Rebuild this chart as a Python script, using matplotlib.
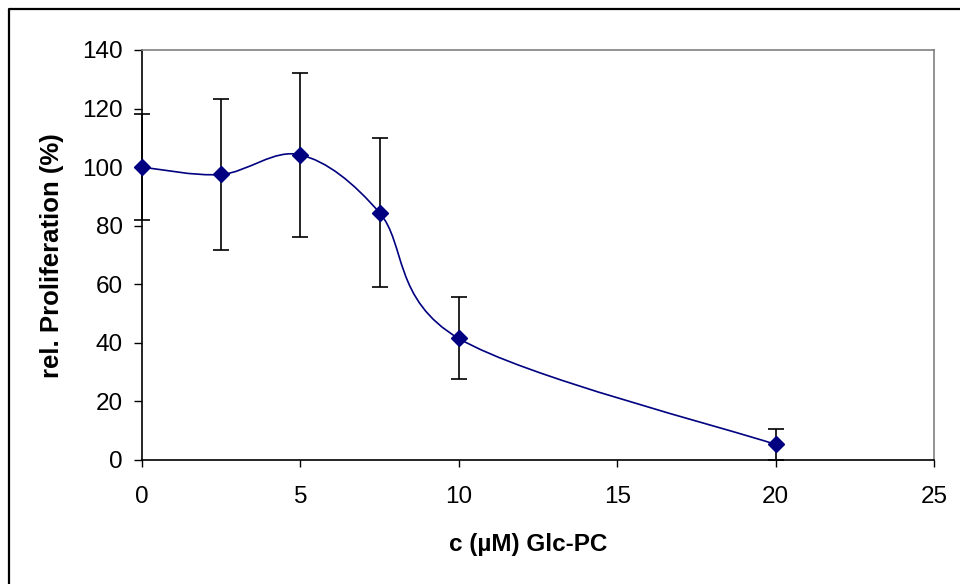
import matplotlib
matplotlib.use('Agg')
import matplotlib.pyplot as plt
from matplotlib.path import Path
from matplotlib.patches import PathPatch
from matplotlib.lines import Line2D
import numpy as np

plt.rcParams['font.family'] = ['Liberation Sans', 'DejaVu Sans']

# dose-response data
conc = [0, 2.5, 5, 7.5, 10, 20]
prolif = [100, 97.5, 104.2, 84.4, 41.5, 5.3]
err = [18, 25.8, 28, 25.4, 14, 5.4]

NAVY = '#000080'


def smooth_path(xs, ys):
    # Catmull-Rom style cubic Bezier through every point (spreadsheet "smoothed line")
    pts = np.column_stack([xs, ys]).astype(float)
    n = len(pts)
    verts = [pts[0]]
    codes = [Path.MOVETO]
    for i in range(n - 1):
        p0 = pts[max(i - 1, 0)]
        p1 = pts[i]
        p2 = pts[i + 1]
        p3 = pts[min(i + 2, n - 1)]
        c1 = p1 + (p2 - p0) / 6.0
        c2 = p2 - (p3 - p1) / 6.0
        verts += [c1, c2, p2]
        codes += [Path.CURVE4] * 3
    return Path(verts, codes)


fig = plt.figure(figsize=(9.6, 5.84), dpi=100)
ax = fig.add_axes([142 / 960, 124 / 584, 792 / 960, 410 / 584])

ax.add_patch(PathPatch(smooth_path(conc, prolif), facecolor='none',
                       edgecolor=NAVY, lw=1.2, zorder=3))
ax.errorbar(conc, prolif, yerr=err, fmt='none', ecolor='black',
            elinewidth=1.2, capsize=5.5, capthick=1.2, zorder=4, clip_on=False)
ax.plot(conc, prolif, linestyle='none', marker='D', markersize=8.5,
        color=NAVY, zorder=5, clip_on=False)

ax.set_xlim(0, 25)
ax.set_ylim(0, 140)
ax.set_xticks([0, 5, 10, 15, 20, 25])
ax.set_yticks(range(0, 141, 20))

for side in ('left', 'bottom'):
    ax.spines[side].set_color('black')
    ax.spines[side].set_linewidth(1.2)
for side in ('top', 'right'):
    ax.spines[side].set_color('#808080')
    ax.spines[side].set_linewidth(1.2)

ax.tick_params(axis='y', direction='out', length=6, width=1, pad=8,
               labelsize=17.5, colors='black')
ax.tick_params(axis='x', direction='out', length=5, width=1, pad=14,
               labelsize=17.5, colors='black')

ax.set_xlabel('c (µM) Glc-PC', fontsize=17.5, fontweight='bold', va='center')
ax.xaxis.set_label_coords(0.487, -0.205)
ax.set_ylabel('rel. Proliferation (%)', fontsize=18.5, fontweight='bold', va='center')
ax.yaxis.set_label_coords(-0.114, 0.498)

# frame around the chart (top and left edges)
bx, by = 8.5 / 960, 1 - 8.5 / 584
fig.add_artist(Line2D([bx, bx, 1.0], [0.0, by, by], transform=fig.transFigure,
                      color='black', lw=1.6))

fig.savefig('out.png', dpi=100)
